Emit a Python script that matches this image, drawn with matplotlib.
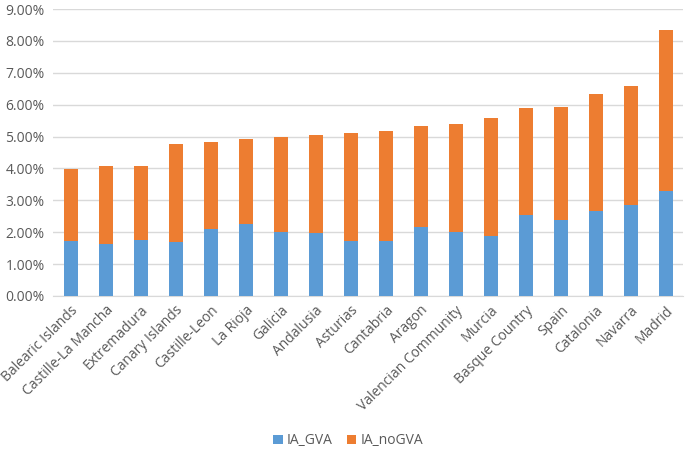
import numpy as np
import matplotlib.pyplot as plt
from matplotlib.ticker import PercentFormatter

regions = ['Balearic Islands', 'Castille-La Mancha', 'Extremadura', 'Canary Islands',
           'Castille-Leon', 'La Rioja', 'Galicia', 'Andalusia', 'Asturias', 'Cantabria',
           'Aragon', 'Valencian Community', 'Murcia', 'Basque Country', 'Spain',
           'Catalonia', 'Navarra', 'Madrid']
# percent values
ia_gva = [1.73, 1.63, 1.77, 1.70, 2.09, 2.27, 2.02, 1.97, 1.71, 1.72,
          2.17, 2.00, 1.89, 2.55, 2.37, 2.66, 2.85, 3.29]
ia_total = [3.99, 4.07, 4.07, 4.76, 4.84, 4.93, 4.99, 5.04, 5.10, 5.17,
            5.32, 5.40, 5.59, 5.90, 5.93, 6.35, 6.58, 8.33]
ia_nogva = [t - g for t, g in zip(ia_total, ia_gva)]

blue = '#5B9BD5'
orange = '#ED7D31'
grey_txt = '#595959'

plt.rcParams['font.family'] = ['Open Sans', 'DejaVu Sans']

fig = plt.figure(figsize=(6.85, 4.53), dpi=100)
ax = fig.add_axes([0.0774, 0.3466, 0.92, 0.6334])

x = np.arange(len(regions))
ax.bar(x, ia_gva, width=0.4, color=blue, label='IA_GVA', zorder=3)
ax.bar(x, ia_nogva, width=0.4, bottom=ia_gva, color=orange, label='IA_noGVA', zorder=3)

ax.set_xlim(-0.5, len(regions) - 0.5)
ax.set_ylim(0, 9)
ax.set_yticks(np.arange(0, 10, 1))
ax.yaxis.set_major_formatter(PercentFormatter(decimals=2))
ax.grid(axis='y', color='#D9D9D9', linewidth=1, zorder=0)

for s in ['top', 'right', 'left']:
    ax.spines[s].set_visible(False)
ax.spines['bottom'].set_color('#D9D9D9')
ax.tick_params(length=0, colors=grey_txt, labelsize=10)
ax.tick_params(axis='y', pad=6)
ax.tick_params(axis='x', pad=5)

ax.set_xticks(x)
ax.set_xticklabels(regions, rotation=45, ha='right', rotation_mode='anchor')

fig.legend(loc='center', bbox_to_anchor=(0.508, 0.027), ncol=2, frameon=False,
           fontsize=10, handlelength=0.7, handleheight=0.7, handletextpad=0.3,
           columnspacing=1.0, labelcolor=grey_txt)

fig.savefig('out.png', dpi=100)
